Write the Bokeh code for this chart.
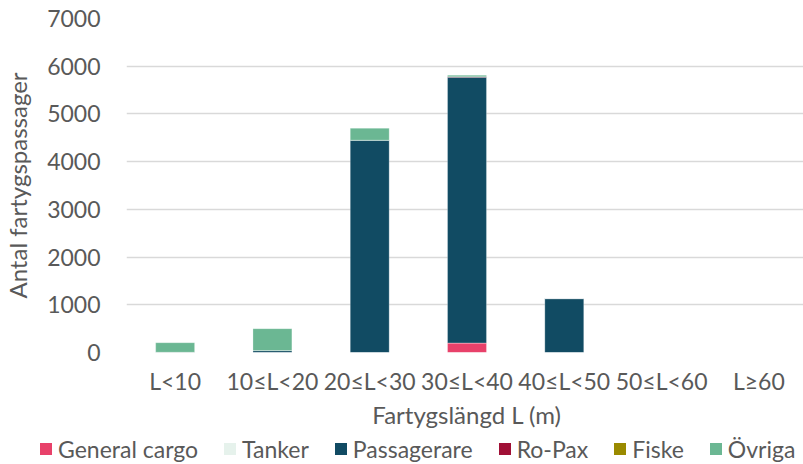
from bokeh.plotting import figure
from bokeh.models import Range1d, FactorRange, SingleIntervalTicker, Div
from bokeh.layouts import column
from bokeh.embed import file_html
from bokeh.resources import INLINE

categories = ["L<10", "10≤L<20", "20≤L<30", "30≤L<40", "40≤L<50", "50≤L<60", "L≥60"]
general_cargo = [0, 0, 0, 200, 0, 0, 0]
tanker = [0, 0, 0, 0, 0, 0, 0]
passagerare = [5, 40, 4450, 5570, 1130, 0, 0]
ro_pax = [0, 0, 0, 10, 0, 0, 0]
fiske = [0, 0, 0, 0, 0, 0, 0]
ovriga = [200, 460, 250, 30, 0, 0, 0]

series = ["General cargo", "Tanker", "Passagerare", "Ro-Pax", "Fiske", "Övriga"]
colors = ["#E8416A", "#E6F2EC", "#114B63", "#A01036", "#9A8A00", "#6BB793"]

data = dict(x=categories, gc=general_cargo, t=tanker, p=passagerare, r=ro_pax, f=fiske, o=ovriga)
keys = ["gc", "t", "p", "r", "f", "o"]

FONT = "Lato"
GREY = "#595959"

p = figure(x_range=FactorRange(*categories, range_padding=0), y_range=Range1d(0, 7000),
           frame_width=681, frame_height=334, output_backend="svg", toolbar_location=None,
           min_border_top=18, min_border_right=0, min_border_left=122, min_border_bottom=0)

rs = p.vbar_stack(keys, x="x", width=0.4, color=colors, source=data,
                  line_color="white", line_alpha=0.5, line_width=0.5)

p.outline_line_color = None
p.xgrid.grid_line_color = None
p.ygrid.grid_line_color = "#D9D9D9"
p.ygrid.grid_line_width = 1.3

p.yaxis.ticker = SingleIntervalTicker(interval=1000)
for ax in (p.xaxis[0], p.yaxis[0]):
    ax.axis_line_color = None
    ax.major_tick_line_color = None
    ax.minor_tick_line_color = None
    ax.major_label_text_font = FONT
    ax.major_label_text_font_size = "23px"
    ax.major_label_text_color = GREY
    ax.axis_label_text_font = FONT
    ax.axis_label_text_font_size = "24px"
    ax.axis_label_text_color = GREY
    ax.axis_label_text_font_style = "normal"

p.yaxis.axis_label = "Antal fartygspassager"
p.xaxis.axis_label = "Fartygslängd L (m)"
p.yaxis.major_label_standoff = 20
p.xaxis.major_label_standoff = 8
p.xaxis.axis_label_standoff = 2
p.yaxis.axis_label_standoff = 12

# legend strip built from the series names and colours
items_html = "".join(
    f'<span style="display:inline-flex;align-items:center;margin-right:26px;">'
    f'<span style="display:inline-block;width:12px;height:12px;background:{c};margin-right:6px;"></span>'
    f'{s}</span>'
    for s, c in zip(series, colors)
)
legend_div = Div(
    text=(f'<div style="display:flex;align-items:center;height:36px;padding-left:40px;'
          f'font-family:Lato;font-size:23px;color:{GREY};white-space:nowrap;">{items_html}</div>'),
    width=803, height=36, margin=(0, 0, 0, 0))

open("out.html", "w").write(file_html(column(p, legend_div, spacing=0), INLINE))
